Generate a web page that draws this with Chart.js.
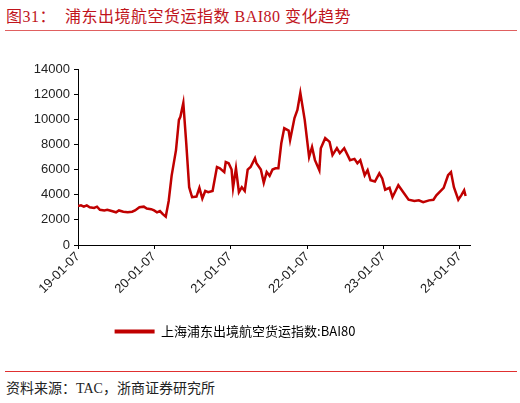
<!DOCTYPE html>
<html><head><meta charset="utf-8">
<script src="https://cdn.jsdelivr.net/npm/chart.js@4"></script>
<style>
body{margin:0;width:520px;height:403px;background:#fff;position:relative;overflow:hidden;font-family:"Liberation Serif","Noto Sans CJK SC",serif}
#t{position:absolute;left:6px;top:3px;font-size:16px;color:#c0141c;letter-spacing:0.5px}
#l1{position:absolute;left:5px;top:30px;width:512px;height:1px;background:#e06060}
#l2{position:absolute;left:5px;top:371px;width:512px;height:1px;background:#e03030}
#s{position:absolute;left:6px;top:377px;font-size:14px;color:#222}
#c{position:absolute;left:0;top:0}
</style></head><body>
<div id="t">图31：&nbsp; 浦东出境航空货运指数 BAI80 变化趋势</div>
<div id="l1"></div>
<canvas id="c" width="520" height="360"></canvas>
<div id="l2"></div>
<div id="s">资料来源：TAC，浙商证券研究所</div>
<script>
const seriesName = "上海浦东出境航空货运指数:BAI80";
const weeks = [0,2,4,6,8,11,13,15,18,20,23,26,28,31,34,37,39,42,45,47,50,52,54,56,58,60,62,64,67,69,70,72,74,76,78,81,83,85,87,89,92,95,97,100,101,103,105,106,108,110,112,114,116,118,121,122,125,127,129,131,133,135,137,139,141,144,145,148,150,152,155,158,160,162,165,166,169,172,174,177,179,182,186,189,191,193,196,198,200,203,206,208,210,213,215,219,223,226,230,233,236,240,243,245,250,253,255,257,260,262,264,265];
const values = [3100,3150,3050,3150,3000,2950,3050,2800,2750,2800,2700,2600,2750,2650,2600,2650,2750,3000,3050,2900,2850,2750,2600,2700,2450,2250,3500,5500,7550,9950,10200,11300,8100,4600,3800,3850,4550,3700,4300,4200,4300,6200,6100,5800,6600,6500,6000,4550,6100,4200,4600,4300,6000,6200,6900,6500,6000,4950,5800,5500,6000,6100,6100,8100,9300,9100,8350,10100,10750,12100,9950,7000,7800,6750,5950,7700,8500,8200,7150,7700,7300,7700,6750,6850,6500,6750,5550,5950,5150,5050,5700,5300,4400,4550,3800,4750,4100,3600,3500,3550,3400,3550,3600,3950,4550,5550,5800,4600,3600,3950,4350,3900];
const tickWeeks = [0,52,104,157,209,261];
const tickLabels = ["19-01-07","20-01-07","21-01-07","22-01-07","23-01-07","24-01-07"];
const pts = weeks.map((w,i)=>({x:w,y:values[i]}));
new Chart(document.getElementById('c'),{
 type:'scatter',
 data:{datasets:[{label:seriesName,data:pts,showLine:true,borderColor:'#c00000',backgroundColor:'#c00000',borderWidth:2.5,pointRadius:0,tension:0}]},
 options:{responsive:false,animation:false,
  layout:{padding:{top:69,right:50,bottom:12,left:0}},
  plugins:{legend:{position:'bottom',labels:{boxWidth:40,boxHeight:4,color:'#222',font:{family:'"Noto Sans CJK SC",Arial',size:13},padding:10,
     generateLabels:(ch)=>[{text:seriesName,fillStyle:'#c00000',strokeStyle:'#c00000',lineWidth:0}]}},tooltip:{enabled:false}},
  scales:{
   x:{type:'linear',min:0,max:268,
    afterBuildTicks:(s)=>{s.ticks=tickWeeks.map(v=>({value:v}));},
    afterFit:(s)=>{s.height=70;},
    grid:{display:true,drawOnChartArea:false,drawTicks:true,tickLength:4,color:'#000'},
    border:{color:'#000',width:1},
    ticks:{callback:(v,i)=>tickLabels[i],maxRotation:45,minRotation:45,color:'#222',font:{family:'"Liberation Sans",Arial',size:13},padding:0}},
   y:{min:0,max:14000,
    afterFit:(s)=>{s.width=78;},
    ticks:{stepSize:2000,callback:(v)=>String(v),color:'#222',font:{family:'"Liberation Sans",Arial',size:13},padding:4},
    grid:{display:true,drawOnChartArea:false,drawTicks:true,tickLength:4,color:'#000'},
    border:{color:'#000',width:1}}
  }}
});
</script></body></html>
